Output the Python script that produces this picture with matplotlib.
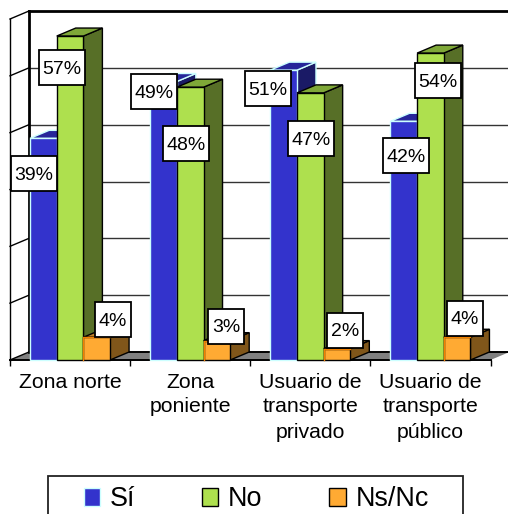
import matplotlib
matplotlib.use("Agg")
import matplotlib.pyplot as plt
from matplotlib.patches import Polygon, Rectangle

categories = ["Zona norte", "Zona\nponiente", "Usuario de\ntransporte\nprivado", "Usuario de\ntransporte\npúblico"]
series_names = ["Sí", "No", "Ns/Nc"]
si_values = [39, 49, 51, 42]
no_values = [57, 48, 47, 54]
ns_values = [4, 3.4, 2, 4]
y_ticks = [0, 10, 20, 30, 40, 50, 60]

# layout / style
W, H = 508, 514
plt.rcParams["font.family"] = ["Liberation Sans", "DejaVu Sans"]
fig = plt.figure(figsize=(W / 100, H / 100), dpi=100)
L, R, T, B = 10, 490.5, 19, 360
ax = fig.add_axes([L / W, (H - B) / H, (R - L) / W, (B - T) / H])
ax.set_xlim(-0.5, 3.5)
ax.set_ylim(0, 60)
sx = (R - L) / 4          # px per category
sy = (B - T) / 60         # px per percent
DX, DY = 19 / sx, 8 / sy  # depth in data units
BW = 26.67 / sx

styles = [
    dict(front="#3333CC", top="#26269A", side="#1A1A66", edge="#CCFFFF"),
    dict(front="#AEE04E", top="#7FA838", side="#576F27", edge="#000000"),
    dict(front="#FFAA33", top="#BF8026", side="#80561A", edge="#000000"),
]

# walls and floor
ax.add_patch(Polygon([(-0.5, 0), (-0.5 + DX, DY), (3.5 + DX, DY), (3.5, 0)],
                     closed=True, fc="#808080", ec="none", zorder=1, clip_on=False))
for t in y_ticks:
    if t not in (0, 60):
        ax.plot([-0.5 + DX, 3.5 + DX], [t + DY, t + DY], color="#333333", lw=1.0,
                zorder=1.5, clip_on=False)
    ax.plot([-0.5, -0.5 + DX], [t, t + DY], color="black", lw=1.0, zorder=1.5, clip_on=False)
ax.plot([-0.5 + DX, 3.5 + DX], [DY, DY], color="black", lw=1.4, zorder=1.6, clip_on=False)
ax.plot([-0.5 + DX, 3.5 + DX], [60 + DY, 60 + DY], color="black", lw=2.0, zorder=1.6, clip_on=False)
ax.plot([-0.5 + DX, -0.5 + DX], [DY, 60 + DY], color="black", lw=2.0, zorder=1.6, clip_on=False)
ax.plot([-0.5, -0.5], [0, 60], color="black", lw=1.0, zorder=1.6, clip_on=False)

# bars
xs = list(range(len(categories)))
all_values = [si_values, no_values, ns_values]
for k, (vals, st) in enumerate(zip(all_values, styles)):
    z = 3 + k
    xk = [x + (k - 1) * BW for x in xs]
    ax.bar(xk, vals, width=BW, color=st["front"], edgecolor=st["edge"], linewidth=1.0,
           zorder=z + 0.2, clip_on=False)
    for x, v in zip(xk, vals):
        x0, x1 = x - BW / 2, x + BW / 2
        ax.add_patch(Polygon([(x1, 0), (x1 + DX, DY), (x1 + DX, v + DY), (x1, v)], closed=True,
                             fc=st["side"], ec=st["edge"], lw=1.0, zorder=z, clip_on=False))
        ax.add_patch(Polygon([(x0, v), (x0 + DX, v + DY), (x1 + DX, v + DY), (x1, v)], closed=True,
                             fc=st["top"], ec=st["edge"], lw=1.0, zorder=z, clip_on=False))
        if k == 2:
            ax.plot([x0, x0, x1], [0, v, v], color="#F08000", lw=1.0, zorder=z + 0.3, clip_on=False)

# data labels: hand-placed box centres, as on the reference (px)
centres = [
    [(34, 173), (154, 91), (268, 88), (406, 155)],
    [(62, 67), (186, 143), (311, 138.5), (438, 80)],
    [(113, 319), (226, 326), (345, 330), (465, 318)],
]
for k, vals in enumerate(all_values):
    for v, (cx, cy) in zip(vals, centres[k]):
        s = f"{v:.0f}%"
        bw = 46 if len(s) == 3 else 36
        bh = 35
        x = -0.5 + (cx - L) / sx
        y = (B - cy) / sy
        ax.add_patch(Rectangle((x - bw / 2 / sx, y - bh / 2 / sy), bw / sx, bh / sy, fc="white",
                               ec="black", lw=1.3, zorder=10, clip_on=False))
        ax.text(x, y, s, ha="center", va="center_baseline", fontsize=14, color="black",
                zorder=11, clip_on=False)

# axes furniture
for s in ("left", "right", "top"):
    ax.spines[s].set_visible(False)
ax.spines["bottom"].set_linewidth(1.4)
ax.spines["bottom"].set_zorder(2)
ax.patch.set_visible(False)
ax.set_yticks([])
ax.set_xticks([-0.5, 0.5, 1.5, 2.5, 3.5])
ax.set_xticklabels([])
ax.tick_params(axis="x", which="major", length=4.5, width=1.0)
ax.set_xticks(xs, minor=True)
ax.set_xticklabels(categories, minor=True, fontsize=15.3, linespacing=1.4)
ax.tick_params(axis="x", which="minor", length=0, pad=9)

# legend
fig.add_artist(Rectangle((48 / W, -0.01), (463 - 48) / W, (H - 476) / H + 0.01, transform=fig.transFigure,
                         fc="white", ec="#222222", lw=1.3))
handles = [Rectangle((0, 0), 1, 1, fc=st["front"], ec=st["edge"], lw=1.0) for st in styles]
leg = fig.legend(handles, series_names, ncol=3, loc="lower left", frameon=False,
                 bbox_to_anchor=(83.5 / W, (H - 512.5) / H), fontsize=19.4, borderpad=0, borderaxespad=0,
                 handlelength=0.6, handleheight=0.6, handletextpad=0.37, columnspacing=2.48)

fig.savefig("out.png", dpi=100)
